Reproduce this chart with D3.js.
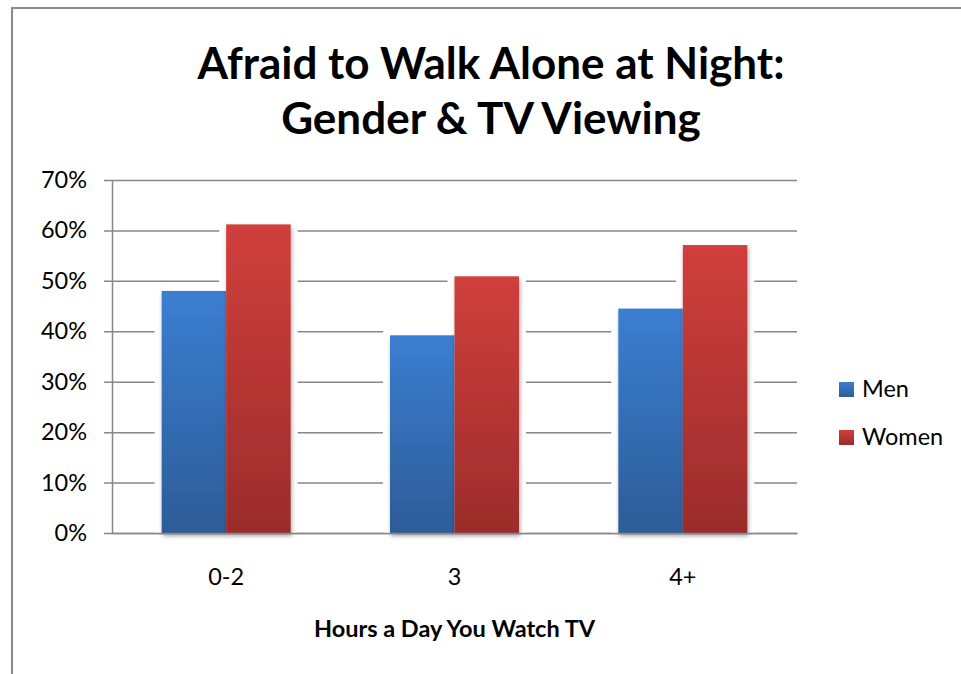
<!DOCTYPE html>
<html>
<head>
<meta charset="utf-8">
<script src="https://cdn.jsdelivr.net/npm/d3@7"></script>
<style>
  body { margin: 0; background: #fff; }
  svg { display: block; font-family: Lato, "Open Sans", sans-serif; }
</style>
</head>
<body>
<svg></svg>
<script>
let width = 961,
  height = 674;

// chart data
const categories = ["0-2", "3", "4+"];
const seriesNames = ["Men", "Women"];
const men = [0.48, 0.392, 0.445];
const women = [0.612, 0.509, 0.571];
const yTicks = [0, 0.1, 0.2, 0.3, 0.4, 0.5, 0.6, 0.7];
const titleLines = ["Afraid to Walk Alone at Night:", "Gender & TV Viewing"];
const xTitle = "Hours a Day You Watch TV";

const colors = {
  Men: ["#3b7ed1", "#2d5c98"],
  Women: ["#d03f3c", "#9b2c2b"]
};

let svg = d3.select("svg").attr("width", width).attr("height", height);

let plot = { left: 112, right: 797, top: 180, bottom: 533 };

// gradients + shadow
let defs = svg.append("defs");
seriesNames.forEach((s) => {
  let g = defs.append("linearGradient")
    .attr("id", "grad-" + s)
    .attr("x1", 0).attr("y1", 0).attr("x2", 0).attr("y2", 1);
  g.append("stop").attr("offset", "0%").attr("stop-color", colors[s][0]);
  g.append("stop").attr("offset", "100%").attr("stop-color", colors[s][1]);
});
defs.append("filter")
  .attr("id", "shadow")
  .attr("x", "-10%").attr("y", "-10%").attr("width", "130%").attr("height", "130%")
  .append("feDropShadow")
  .attr("dx", 1).attr("dy", 3).attr("stdDeviation", 2)
  .attr("flood-color", "#000").attr("flood-opacity", 0.35);

// outer frame
svg.append("rect")
  .attr("x", 12).attr("y", 8)
  .attr("width", 1000).attr("height", 1000)
  .attr("fill", "none")
  .attr("stroke", "#8a8a8a")
  .attr("stroke-width", 2);

// title
svg.append("text")
  .attr("text-anchor", "middle")
  .attr("font-weight", "bold")
  .attr("font-size", "44px")
  .attr("fill", "#000")
  .selectAll("tspan")
  .data(titleLines)
  .enter()
  .append("tspan")
  .attr("x", 491)
  .attr("y", (d, i) => 79 + i * 55)
  .text((d) => d);

// scales
let x0 = d3.scaleBand().domain(categories).range([plot.left, plot.right]).padding(0);
let x1 = d3.scaleBand().domain(seriesNames).range([0, x0.bandwidth()])
  .paddingInner(0).paddingOuter(0.77);
let y = d3.scaleLinear().domain([0, 0.7]).range([plot.bottom, plot.top]);

// y axis with gridlines
let yAxis = svg.append("g")
  .attr("transform", "translate(" + plot.left + ",0)")
  .call(d3.axisLeft(y)
    .tickValues(yTicks)
    .tickFormat(d3.format(".0%"))
    .tickSizeInner(-(plot.right - plot.left))
    .tickSizeOuter(0)
    .tickPadding(25));
yAxis.select(".domain").attr("stroke", "#878787").attr("stroke-width", 1.5);
yAxis.selectAll(".tick line")
  .attr("x1", -8)
  .attr("stroke", "#878787")
  .attr("stroke-width", 1.5);
yAxis.selectAll(".tick text")
  .attr("font-family", "Lato, sans-serif")
  .attr("font-size", "23.5px")
  .attr("fill", "#000");

let rows = categories.map((c, i) => ({ cat: c, Men: men[i], Women: women[i] }));

// white halo behind bars (hides grid near bars)
let groups = svg.append("g").selectAll("g")
  .data(rows)
  .enter()
  .append("g")
  .attr("transform", (d) => "translate(" + x0(d.cat) + ",0)");

groups.selectAll("rect.halo")
  .data((d) => seriesNames.map((s) => ({ s: s, v: d[s] })))
  .enter()
  .append("rect")
  .attr("class", "halo")
  .attr("x", (d) => x1(d.s) - 7)
  .attr("y", (d) => y(d.v) - 5)
  .attr("width", x1.bandwidth() + 14)
  .attr("height", (d) => plot.bottom - y(d.v) + 5)
  .attr("fill", "#fff");

groups.selectAll("rect.bar")
  .data((d) => seriesNames.map((s) => ({ s: s, v: d[s] })))
  .enter()
  .append("rect")
  .attr("class", "bar")
  .attr("x", (d) => x1(d.s))
  .attr("y", (d) => y(d.v))
  .attr("width", x1.bandwidth())
  .attr("height", (d) => plot.bottom - y(d.v))
  .attr("fill", (d) => "url(#grad-" + d.s + ")")
  .attr("filter", "url(#shadow)");

// x axis
let xAxis = svg.append("g")
  .attr("transform", "translate(0," + plot.bottom + ")")
  .call(d3.axisBottom(x0).tickSize(0).tickPadding(35));
xAxis.select(".domain").attr("stroke", "#878787").attr("stroke-width", 1.5);
xAxis.selectAll(".tick text")
  .attr("font-family", "Lato, sans-serif")
  .attr("font-size", "23.5px")
  .attr("fill", "#000");

// x axis title
svg.append("text")
  .attr("x", (plot.left + plot.right) / 2)
  .attr("y", 637)
  .attr("text-anchor", "middle")
  .attr("font-weight", "bold")
  .attr("font-size", "23.5px")
  .text(xTitle);

// legend
let legend = svg.append("g")
  .selectAll("g")
  .data(seriesNames)
  .enter()
  .append("g")
  .attr("transform", (d, i) => "translate(839," + (382 + i * 48) + ")");
legend.append("rect")
  .attr("width", 15).attr("height", 15)
  .attr("fill", (d) => "url(#grad-" + d + ")");
legend.append("text")
  .attr("x", 23).attr("y", 15)
  .attr("font-size", "23.5px")
  .text((d) => d);
</script>
</body>
</html>
